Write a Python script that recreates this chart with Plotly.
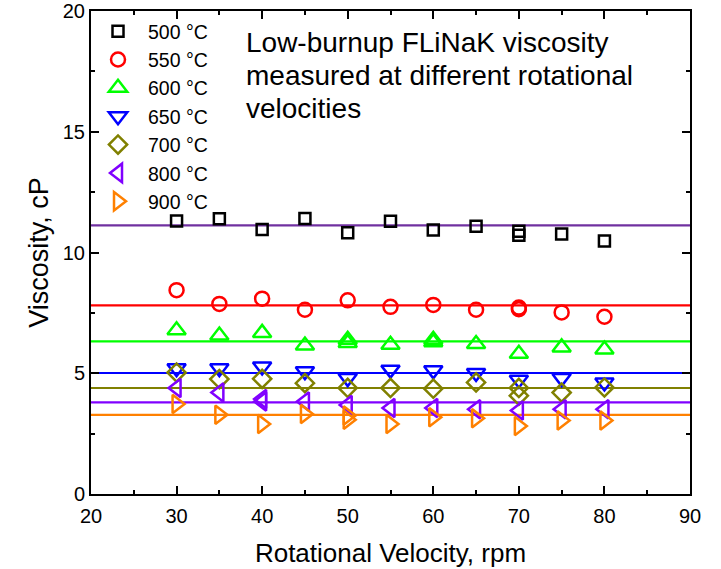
import plotly.graph_objects as go

rpm = [30, 35, 40, 45, 50, 55, 60, 65, 70, 75, 80]

labels = ["500 °C", "550 °C", "600 °C", "650 °C", "700 °C", "800 °C", "900 °C"]

x_500 = rpm + [70]
v_500 = [11.30, 11.40, 10.95, 11.41, 10.82, 11.29, 10.93, 11.09, 10.71, 10.77, 10.48, 10.88]
x_550 = rpm + [70]
v_550 = [8.44, 7.87, 8.09, 7.63, 8.02, 7.75, 7.83, 7.63, 7.65, 7.52, 7.34, 7.72]
x_600 = rpm + [50, 60]
v_600 = [6.78, 6.56, 6.67, 6.15, 6.39, 6.18, 6.39, 6.21, 5.81, 6.07, 5.98, 6.25, 6.28]
x_650 = rpm
v_650 = [5.21, 5.21, 5.28, 5.08, 4.80, 5.15, 5.12, 5.01, 4.73, 4.80, 4.62]
x_700 = rpm + [70]
v_700 = [5.03, 4.76, 4.77, 4.59, 4.39, 4.39, 4.36, 4.62, 4.39, 4.20, 4.41, 4.07]
x_800 = rpm + [40]
v_800 = [4.39, 4.20, 3.93, 3.83, 3.69, 3.56, 3.56, 3.51, 3.46, 3.51, 3.51, 3.83]
x_900 = rpm + [50]
v_900 = [3.73, 3.28, 2.90, 3.31, 3.07, 2.90, 3.18, 3.14, 2.82, 3.04, 3.04, 3.25]

fit_x = [20, 90]
fit_values = [11.12, 7.81, 6.32, 5.01, 4.39, 3.79, 3.28]

title_lines = ["Low-burnup FLiNaK viscosity", "measured at different rotational", "velocities"]

xs = [x_500, x_550, x_600, x_650, x_700, x_800, x_900]
vs = [v_500, v_550, v_600, v_650, v_700, v_800, v_900]
colors = ["#000000", "#FF0000", "#00FF00", "#0000FF", "#808000", "#8000FF", "#FF8000"]
line_colors = ["#7030A0", "#FF0000", "#00FF00", "#0000FF", "#808000", "#8000FF", "#FF8000"]
symbols = ["square-open", "circle-open", "triangle-up-open", "triangle-down-open",
           "diamond-open", "triangle-left-open", "triangle-right-open"]
sizes = [11, 14, 16, 16, 14, 16, 16]

fig = go.Figure()

for i in range(len(labels)):
    fig.add_trace(go.Scatter(
        x=fit_x, y=[fit_values[i]] * len(fit_x), mode="lines",
        line=dict(color=line_colors[i], width=2.2), showlegend=False, hoverinfo="skip"))

for i in range(len(labels)):
    fig.add_trace(go.Scatter(
        x=xs[i], y=vs[i], mode="markers", name=labels[i],
        marker=dict(symbol=symbols[i], size=sizes[i], color=colors[i],
                    line=dict(color=colors[i], width=2.5))))

font = "Liberation Sans, Arial, sans-serif"

line_y = [0.934, 0.867, 0.799]
annotations = [dict(
    x=0.255, y=line_y[k], xref="paper", yref="paper", xanchor="left", yanchor="middle",
    align="left", showarrow=False, text=title_lines[k],
    font=dict(size=28, family=font, color="black")) for k in range(len(title_lines))]

fig.update_layout(
    width=721, height=569,
    margin=dict(l=91, r=31, t=11, b=75, autoexpand=False),
    paper_bgcolor="white", plot_bgcolor="white",
    font=dict(family=font, size=20, color="black"),
    showlegend=True,
    legend=dict(x=-0.005, y=0.998, xanchor="left", yanchor="top",
                bgcolor="rgba(0,0,0,0)", font=dict(size=19.5),
                tracegroupgap=0, itemwidth=50),
    xaxis=dict(range=[20, 90], tickmode="linear", tick0=20, dtick=10,
               ticks="inside", ticklen=8, tickwidth=1.5, tickcolor="black",
               minor=dict(ticks="inside", ticklen=4, dtick=5, tickcolor="black"),
               showline=True, linecolor="black", linewidth=2, mirror="ticks",
               showgrid=False, zeroline=False, ticklabelstandoff=3, automargin=False,
               title=dict(text="Rotational Velocity, rpm", font=dict(size=26), standoff=18),
               tickfont=dict(size=20)),
    yaxis=dict(range=[0, 20], tickmode="linear", tick0=0, dtick=5,
               ticks="inside", ticklen=8, tickwidth=1.5, tickcolor="black",
               minor=dict(ticks="inside", ticklen=4, dtick=2.5, tickcolor="black"),
               showline=True, linecolor="black", linewidth=2, mirror="ticks",
               showgrid=False, zeroline=False, automargin=False,
               title=dict(text="Viscosity, cP", font=dict(size=27), standoff=6),
               tickfont=dict(size=20)),
    annotations=annotations,
)

fig.write_html("out.html")
